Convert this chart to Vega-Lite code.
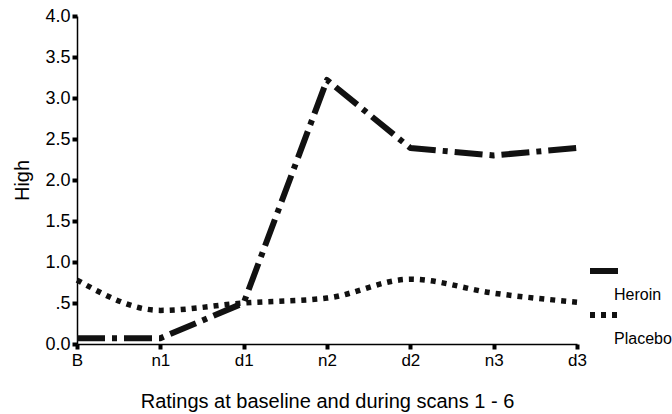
{
  "$schema": "https://vega.github.io/schema/vega-lite/v6.json",
  "width": 500,
  "height": 328,
  "autosize": {"type": "none"},
  "padding": {"left": 77, "top": 16, "right": 95, "bottom": 70},
  "background": "white",
  "config": {"view": {"stroke": null}, "font": "Liberation Sans"},
  "data": {
    "values": [
      {"scan": "B", "group": "Heroin", "high": 0.07},
      {"scan": "n1", "group": "Heroin", "high": 0.07},
      {"scan": "d1", "group": "Heroin", "high": 0.5},
      {"scan": "n2", "group": "Heroin", "high": 3.22},
      {"scan": "d2", "group": "Heroin", "high": 2.39},
      {"scan": "n3", "group": "Heroin", "high": 2.3},
      {"scan": "d3", "group": "Heroin", "high": 2.39},
      {"scan": "B", "group": "Placebo", "high": 0.78},
      {"scan": "n1", "group": "Placebo", "high": 0.41},
      {"scan": "d1", "group": "Placebo", "high": 0.5},
      {"scan": "n2", "group": "Placebo", "high": 0.56},
      {"scan": "d2", "group": "Placebo", "high": 0.79},
      {"scan": "n3", "group": "Placebo", "high": 0.62},
      {"scan": "d3", "group": "Placebo", "high": 0.51}
    ]
  },
  "encoding": {
    "x": {
      "field": "scan",
      "type": "ordinal",
      "sort": ["B", "n1", "d1", "n2", "d2", "n3", "d3"],
      "scale": {"type": "point", "padding": 0},
      "axis": {
        "title": "Ratings at baseline and during scans 1 - 6",
        "titleFontSize": 20,
        "titleFontWeight": "normal",
        "titleColor": "black",
        "titlePadding": 23,
        "labelFontSize": 17,
        "labelColor": "black",
        "labelAngle": 0,
        "labelPadding": 3,
        "tickSize": 5,
        "tickWidth": 4,
        "tickColor": "black",
        "domainColor": "black",
        "domainWidth": 1.5,
        "grid": false
      }
    },
    "y": {
      "field": "high",
      "type": "quantitative",
      "scale": {"domain": [0, 4], "nice": false},
      "axis": {
        "values": [0, 0.5, 1, 1.5, 2, 2.5, 3, 3.5, 4],
        "labelExpr": "datum.value == 0.5 ? '.5' : format(datum.value, '.1f')",
        "title": "High",
        "titleFontSize": 20,
        "titleFontWeight": "normal",
        "titleColor": "black",
        "titlePadding": 12,
        "labelFontSize": 18,
        "labelColor": "black",
        "labelPadding": 2,
        "tickSize": 5,
        "tickWidth": 4,
        "tickColor": "black",
        "domainColor": "black",
        "domainWidth": 1.5,
        "grid": false
      }
    },
    "strokeDash": {
      "field": "group",
      "type": "nominal",
      "scale": {"domain": ["Heroin", "Placebo"], "range": [[28, 7, 5, 7], [5, 6]]},
      "legend": {
        "title": null,
        "orient": "none",
        "legendX": 519,
        "legendY": 247,
        "symbolType": "M-3,0H3",
        "symbolSize": 87,
        "symbolStrokeWidth": 6,
        "symbolStrokeColor": "#111",
        "symbolFillColor": "transparent",
        "labelFontSize": 16,
        "labelLimit": 200,
        "labelColor": "black",
        "labelOffset": 2,
        "rowPadding": 0,
        "encode": {"labels": {"update": {"dy": {"value": 24}}}}
      }
    }
  },
  "layer": [
    {
      "transform": [{"filter": "datum.group == 'Heroin'"}],
      "mark": {"type": "line", "interpolate": "linear", "color": "#111", "strokeWidth": 6, "strokeJoin": "round"}
    },
    {
      "transform": [{"filter": "datum.group == 'Placebo'"}],
      "mark": {"type": "line", "interpolate": "monotone", "color": "#111", "strokeWidth": 5.5}
    }
  ]
}
